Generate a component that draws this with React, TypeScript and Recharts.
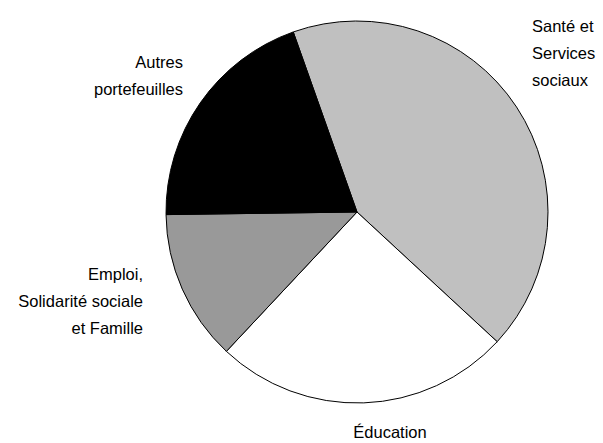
import React from "react";
import { PieChart, Pie, Cell } from "recharts";

const portfolios = ["Santé et Services sociaux", "Éducation", "Emploi, Solidarité sociale et Famille", "Autres portefeuilles"];
const shares = [42.3, 25.1, 12.8, 19.8];
const labelLines = [
  ["Santé et", "Services", "sociaux"],
  ["Éducation"],
  ["Emploi,", "Solidarité sociale", "et Famille"],
  ["Autres", "portefeuilles"],
];
const fills = ["#c0c0c0", "#ffffff", "#999999", "#000000"];

const data = portfolios.map((name, i) => ({ name, value: shares[i] }));

// label placement relative to the pie centre: [dx, first baseline dy, anchor]
const labelPos: [number, number, "start" | "middle" | "end"][] = [
  [175, -180, "start"],
  [33, 226, "middle"],
  [-214, 68, "end"],
  [-174, -144, "end"],
];

const renderLabel = (props: any) => {
  const { cx, cy, index } = props;
  const [dx, dy, anchor] = labelPos[index];
  const lines = labelLines[index];
  return (
    <text
      x={cx + dx}
      y={cy + dy}
      textAnchor={anchor}
      fill="#000"
      fontSize={16.5}
      fontFamily="'Liberation Sans', Arial, sans-serif"
    >
      {lines.map((t, j) => (
        <tspan key={j} x={cx + dx} dy={j === 0 ? 0 : 27}>
          {t}
        </tspan>
      ))}
    </text>
  );
};

export default function App() {
  return (
    <div style={{ position: "absolute", left: 0, top: 0, background: "#fff" }}>
      <PieChart width={603} height={443} margin={{ top: 0, right: 0, bottom: 0, left: 0 }}>
        <Pie
          data={data}
          dataKey="value"
          nameKey="name"
          cx={357}
          cy={212}
          outerRadius={191}
          startAngle={109.5}
          endAngle={-250.5}
          stroke="#000"
          strokeWidth={1}
          label={renderLabel}
          labelLine={false}
          isAnimationActive={false}
        >
          {data.map((d, i) => (
            <Cell key={d.name} fill={fills[i]} />
          ))}
        </Pie>
      </PieChart>
    </div>
  );
}
